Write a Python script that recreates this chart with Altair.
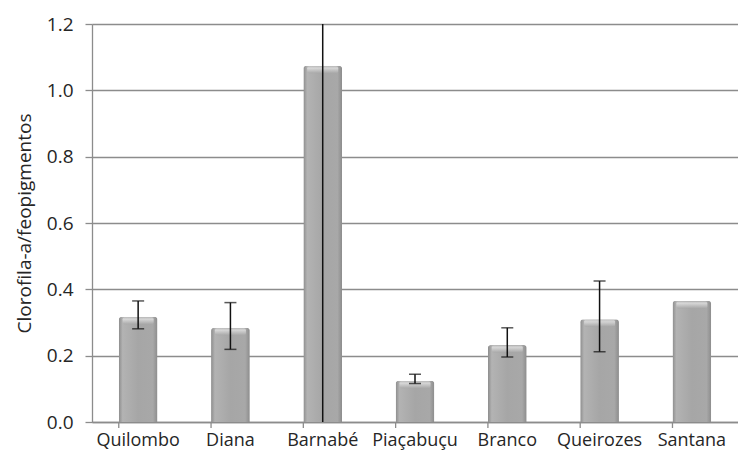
import altair as alt
import pandas as pd

sites = ["Quilombo", "Diana", "Barnabé", "Piaçabuçu", "Branco", "Queirozes", "Santana"]
values = [0.317, 0.284, 1.074, 0.124, 0.232, 0.310, 0.365]
err_lo = [0.281, 0.219, 0.0, 0.116, 0.196, 0.212, None]
err_hi = [0.365, 0.360, 2.14, 0.144, 0.284, 0.425, None]
y_ticks = [0.0, 0.2, 0.4, 0.6, 0.8, 1.0, 1.2]

df = pd.DataFrame({"site": sites, "value": values, "lo": err_lo, "hi": err_hi})

FONT = "Open Sans"
W, H = 646, 398

xscale = alt.Scale(domain=sites, paddingInner=0.58, paddingOuter=0.29)
yscale = alt.Scale(domain=[0, 1.2], nice=False, zero=True)

x_enc = alt.X("site:N", scale=xscale, sort=sites,
              axis=alt.Axis(title=None, labelAngle=0, labelFont=FONT, labelFontSize=18,
                            labelColor="#262626", labelPadding=9, ticks=False,
                            domainColor="#8c8c8c", domainWidth=1.3))

bar_grad = alt.Gradient(
    gradient="linear", x1=0, x2=1, y1=0, y2=0,
    stops=[alt.GradientStop(color="#8c8c8c", offset=0),
           alt.GradientStop(color="#b3b3b3", offset=0.1),
           alt.GradientStop(color="#a6a6a6", offset=0.5),
           alt.GradientStop(color="#a8a8a8", offset=0.88),
           alt.GradientStop(color="#8c8c8c", offset=1)])

bars = alt.Chart(df).mark_bar(color=bar_grad, cornerRadiusTopLeft=3, cornerRadiusTopRight=3).encode(
    x=x_enc,
    y=alt.Y("value:Q", scale=yscale,
            axis=alt.Axis(title="Clorofila-a/feopigmentos", values=y_ticks, format=".1f",
                          grid=True, gridColor="#8c8c8c", gridWidth=1.3,
                          domainColor="#8c8c8c", domainWidth=1.3,
                          tickColor="#8c8c8c", tickSize=7, tickWidth=1.3,
                          labelFont=FONT, labelFontSize=19, labelColor="#262626",
                          labelPadding=12, titleFont=FONT, titleFontSize=19,
                          titleFontWeight="normal", titleColor="#262626", titlePadding=12)),
)

bevel_grad = alt.Gradient(
    gradient="linear", x1=0, x2=0, y1=0, y2=1,
    stops=[alt.GradientStop(color="#cfcfcf", offset=0),
           alt.GradientStop(color="#e6e6e6", offset=0.3),
           alt.GradientStop(color="#a6a6a6", offset=1)])

bevel = alt.Chart(df).mark_tick(orient="horizontal", size=31, thickness=7, yOffset=4,
                                color=bevel_grad, opacity=0.7, cornerRadius=2).encode(
    x=alt.X("site:N", scale=xscale, sort=sites),
    y=alt.Y("value:Q", scale=yscale),
)

err = alt.Chart(df).transform_filter("isValid(datum.lo)").mark_rule(
    color="#111111", strokeWidth=1.5, clip=True).encode(
    x=alt.X("site:N", scale=xscale, sort=sites),
    y=alt.Y("lo:Q", scale=yscale),
    y2="hi:Q",
)

caps_base = alt.Chart(df).transform_filter(
    "isValid(datum.lo) && datum.hi <= 1.2 && datum.lo > 0")
cap_hi = caps_base.mark_tick(orient="horizontal", size=12, thickness=1.5, color="#111111").encode(
    x=alt.X("site:N", scale=xscale, sort=sites), y=alt.Y("hi:Q", scale=yscale))
cap_lo = caps_base.mark_tick(orient="horizontal", size=12, thickness=1.5, color="#111111").encode(
    x=alt.X("site:N", scale=xscale, sort=sites), y=alt.Y("lo:Q", scale=yscale))

xticks = alt.Chart(df).mark_rule(color="#8c8c8c", strokeWidth=1.3).encode(
    x=alt.X("site:N", scale=xscale, sort=sites, bandPosition=0),
    y=alt.value(H), y2=alt.value(H + 6),
)

chart = alt.layer(bars, bevel, err, cap_hi, cap_lo, xticks).properties(
    width=W, height=H,
    autosize=alt.AutoSizeParams(type="none"),
    padding={"left": 84, "top": 16, "right": 0, "bottom": 31},
).configure_view(stroke=None).configure(background="white")

chart.save("out.html", embed_options={"renderer": "svg", "actions": False})
